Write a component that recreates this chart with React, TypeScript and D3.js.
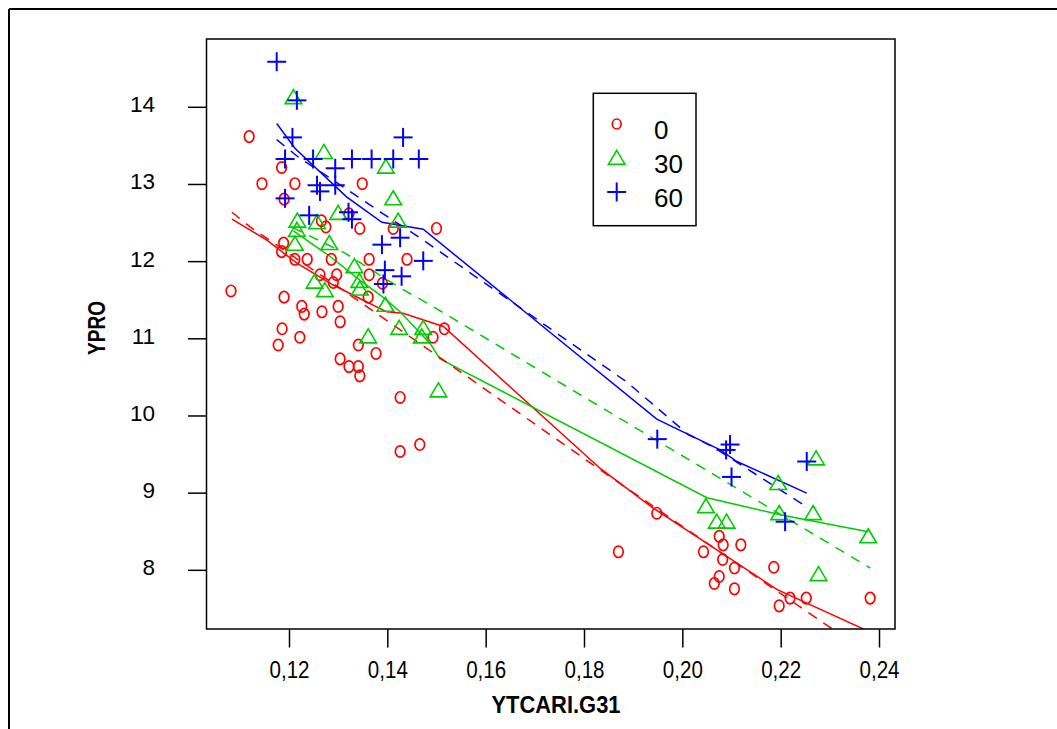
import React from 'react';
import * as d3 from 'd3';

// ---- tick labels / categories ----
const xTicks = [0.12, 0.14, 0.16, 0.18, 0.2, 0.22, 0.24];
const xTickLabels = ['0,12', '0,14', '0,16', '0,18', '0,20', '0,22', '0,24'];
const yTicks = [8, 9, 10, 11, 12, 13, 14];
const groups = ['0', '30', '60'];
const colors = ['#FF0000', '#00CD00', '#0000FF'];

// ---- group 0 (red circles) ----
const x0 = [0.1118, 0.1184, 0.1144, 0.1211, 0.1348, 0.1189, 0.1321, 0.1265, 0.1274, 0.1343, 0.1411, 0.1499,
  0.1188, 0.1184, 0.1211, 0.1236, 0.1285, 0.1362, 0.1439, 0.1262, 0.1296, 0.1362, 0.1289, 0.1389, 0.1081,
  0.1189, 0.136, 0.1225, 0.1299, 0.123, 0.1266, 0.1303, 0.1185, 0.1221, 0.1177, 0.134, 0.1376, 0.1303,
  0.1321, 0.134, 0.1343, 0.1425, 0.1465, 0.1425, 0.1515, 0.1492, 0.1947, 0.1869, 0.2074, 0.2082, 0.2118,
  0.2042, 0.2081, 0.2105, 0.2185, 0.2074, 0.2064, 0.2105, 0.2196, 0.2218, 0.2251, 0.2381];
const y0 = [13.62, 13.22, 13.01, 13.01, 13.01, 12.81, 12.62, 12.53, 12.45, 12.43, 12.43, 12.43,
  12.24, 12.13, 12.03, 12.03, 12.03, 12.03, 12.03, 11.83, 11.83, 11.83, 11.73, 11.72, 11.62,
  11.54, 11.54, 11.42, 11.42, 11.32, 11.35, 11.22, 11.13, 11.02, 10.92, 10.92, 10.81, 10.74,
  10.64, 10.64, 10.52, 10.24, 9.63, 9.54, 11.13, 11.02, 8.74, 8.24, 8.44, 8.33, 8.33,
  8.24, 8.14, 8.03, 8.04, 7.92, 7.83, 7.76, 7.54, 7.64, 7.64, 7.64];

// ---- group 30 (green triangles) ----
const x30 = [0.1208, 0.127, 0.1396, 0.1411, 0.1299, 0.1421, 0.1216, 0.1256, 0.1215, 0.1211, 0.1281, 0.1332,
  0.1251, 0.1272, 0.1342, 0.1343, 0.1395, 0.136, 0.1423, 0.1472, 0.1469, 0.1503, 0.2271, 0.2194,
  0.2047, 0.2196, 0.2265, 0.2069, 0.2089, 0.2377, 0.2276];
const y30 = [14.13, 13.42, 13.23, 12.82, 12.63, 12.53, 12.53, 12.51, 12.41, 12.23, 12.24, 11.94,
  11.74, 11.63, 11.75, 11.65, 11.44, 11.03, 11.14, 11.14, 11.03, 10.33, 9.45, 9.13,
  8.83, 8.74, 8.74, 8.63, 8.63, 8.44, 7.95];

// ---- group 60 (blue plus) ----
const x60 = [0.1174, 0.1215, 0.1206, 0.1431, 0.1191, 0.1248, 0.1327, 0.1367, 0.1411, 0.1463, 0.1293, 0.1256,
  0.1293, 0.1262, 0.1191, 0.124, 0.132, 0.1327, 0.1425, 0.1388, 0.1472, 0.1394, 0.1428, 0.1391,
  0.1948, 0.2096, 0.2088, 0.2099, 0.2252, 0.2208];
const y60 = [14.59, 14.09, 13.61, 13.61, 13.33, 13.33, 13.33, 13.33, 13.33, 13.33, 13.21, 12.99,
  12.99, 12.91, 12.82, 12.6, 12.64, 12.55, 12.31, 12.22, 12.01, 11.89, 11.81, 11.71,
  9.7, 9.63, 9.56, 9.21, 9.41, 8.63];

// ---- smooth (solid) and fitted (dashed) curves ----
const smooth0X = [0.1083, 0.1154, 0.1215, 0.1288, 0.135, 0.1398, 0.1431, 0.1513, 0.1832, 0.1939, 0.2192, 0.2381];
const smooth0Y = [12.55, 12.28, 11.98, 11.7, 11.5, 11.35, 11.33, 11.16, 9.32, 8.81, 7.75, 7.2];
const fit0X = [0.1083, 0.112, 0.1221, 0.1309, 0.1512, 0.1846, 0.2116, 0.232];
const fit0Y = [12.64, 12.45, 12.01, 11.63, 10.73, 9.24, 8.06, 7.17];

const smooth30X = [0.1208, 0.1248, 0.1282, 0.1343, 0.139, 0.1425, 0.1459, 0.1486, 0.1506, 0.2049, 0.2198, 0.2377];
const smooth30Y = [12.4, 12.22, 12.07, 11.76, 11.54, 11.35, 11.12, 10.94, 10.74, 8.94, 8.72, 8.5];
const fit30X = [0.1207, 0.1313, 0.1425, 0.1486, 0.1832, 0.2381];
const fit30Y = [12.44, 12.11, 11.66, 11.44, 10.12, 8.03];

const smooth60X = [0.1174, 0.1211, 0.1316, 0.1388, 0.1472, 0.1947, 0.2076, 0.211, 0.2252];
const smooth60Y = [13.79, 13.47, 12.84, 12.51, 12.42, 9.96, 9.56, 9.41, 9.0];
const fit60X = [0.1174, 0.1221, 0.1288, 0.1388, 0.1465, 0.1886, 0.2011, 0.2061, 0.2255];
const fit60Y = [13.58, 13.34, 13.06, 12.63, 12.31, 10.44, 9.76, 9.6, 8.81];

const W = 1057;
const H = 729;
const L = 206.5, R = 895, T = 39, B = 629;

const xScale = d3.scaleLinear().domain([0.10312, 0.24315]).range([L, R]);
const yScale = d3.scaleLinear().domain([14.885, 7.2397]).range([T, B]);

const zip = (xs: number[], ys: number[]) => xs.map((v, i) => [v, ys[i]] as [number, number]);
const lineGen = d3.line<[number, number]>().x(d => xScale(d[0])).y(d => yScale(d[1]));

const FONT = '"Liberation Sans", Arial, Helvetica, sans-serif';

function Marker({ kind, cx, cy, color, legend = false }: { kind: number; cx: number; cy: number; color: string; legend?: boolean }) {
  if (kind === 0) {
    return <ellipse cx={cx} cy={cy} rx={legend ? 4.4 : 4.8} ry={legend ? 5 : 5.7} fill="none" stroke={color} strokeWidth={1.7} />;
  }
  if (kind === 1) {
    const p = `M${cx},${cy - 7.6} L${cx + 8.3},${cy + 6.4} L${cx - 8.3},${cy + 6.4} Z`;
    return <path d={p} fill="none" stroke={color} strokeWidth={1.6} strokeLinejoin="miter" />;
  }
  return (
    <g stroke={color} strokeWidth={2}>
      <line x1={cx - 9.5} x2={cx + 9.5} y1={cy} y2={cy} />
      <line x1={cx} x2={cx} y1={cy - 9.5} y2={cy + 9.5} />
    </g>
  );
}

export default function App() {
  const points = [zip(x0, y0), zip(x30, y30), zip(x60, y60)];
  const smooths = [zip(smooth0X, smooth0Y), zip(smooth30X, smooth30Y), zip(smooth60X, smooth60Y)];
  const fits = [zip(fit0X, fit0Y), zip(fit30X, fit30Y), zip(fit60X, fit60Y)];

  const legX = 593.3, legY = 93.3, legW = 102.7, legH = 132.4;

  return (
    <svg width={W} height={H} style={{ position: 'absolute', left: 0, top: 0, background: '#fff' }} fontFamily={FONT}>
      <rect x={0} y={0} width={W} height={H} fill="#fff" />
      {/* outer frame */}
      <line x1={9} x2={W} y1={9} y2={9} stroke="#000" strokeWidth={2} />
      <line x1={9} x2={9} y1={9} y2={H} stroke="#000" strokeWidth={2} />

      <defs>
        <clipPath id="plotclip">
          <rect x={L} y={T} width={R - L} height={B - T} />
        </clipPath>
      </defs>

      {/* lines */}
      <g clipPath="url(#plotclip)" fill="none" strokeWidth={1.5}>
        {smooths.map((s, i) => (
          <path key={'s' + i} d={lineGen(s) || ''} stroke={colors[i]} />
        ))}
        {fits.map((s, i) => (
          <path key={'f' + i} d={lineGen(s) || ''} stroke={colors[i]} strokeDasharray="10,8" />
        ))}
      </g>

      {/* points */}
      {points.map((pts, gi) => (
        <g key={'p' + gi}>
          {pts.map((d, j) => (
            <Marker key={j} kind={gi} cx={xScale(d[0])} cy={yScale(d[1])} color={colors[gi]} />
          ))}
        </g>
      ))}

      {/* plot box */}
      <rect x={L} y={T} width={R - L} height={B - T} fill="none" stroke="#000" strokeWidth={1.5} />

      {/* x axis */}
      {xTicks.map((t, i) => (
        <g key={'xt' + i}>
          <line x1={xScale(t)} x2={xScale(t)} y1={B} y2={B + 18.5} stroke="#000" strokeWidth={1.5} />
          <text x={xScale(t)} y={678} textAnchor="middle" fontSize={23} textLength={40} lengthAdjust="spacingAndGlyphs">{xTickLabels[i]}</text>
        </g>
      ))}
      {/* y axis */}
      {yTicks.map((t, i) => (
        <g key={'yt' + i}>
          <line x1={L - 18.5} x2={L} y1={yScale(t)} y2={yScale(t)} stroke="#000" strokeWidth={1.5} />
          <text x={155} y={yScale(t) + 5} textAnchor="end" fontSize={22.5}>{String(t)}</text>
        </g>
      ))}

      {/* axis titles */}
      <text x={556} y={713} textAnchor="middle" fontSize={24} fontWeight="bold" textLength={129} lengthAdjust="spacingAndGlyphs">YTCARI.G31</text>
      <text transform={`translate(105,${(T + B) / 2 - 6}) rotate(-90)`} textAnchor="middle" fontSize={24} fontWeight="bold" textLength={54} lengthAdjust="spacingAndGlyphs">YPRO</text>

      {/* legend */}
      <rect x={legX} y={legY} width={legW} height={legH} fill="#fff" stroke="#000" strokeWidth={1.5} />
      {groups.map((g, i) => {
        const sy = 124 + i * 34;
        return (
          <g key={'lg' + i}>
            <Marker kind={i} cx={616.7} cy={sy} color={colors[i]} legend />
            <text x={654} y={sy + 14.5} fontSize={26}>{g}</text>
          </g>
        );
      })}
    </svg>
  );
}
